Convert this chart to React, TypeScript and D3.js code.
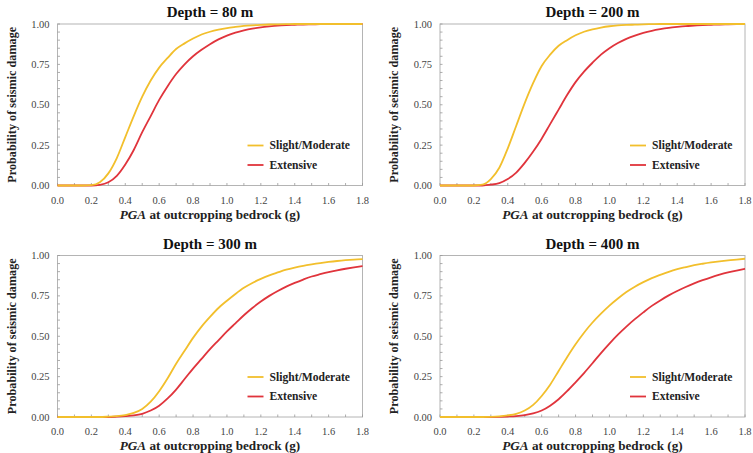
import React, { useEffect } from "react";
import * as d3 from "d3";

const pga = [0, 0.05, 0.1, 0.15, 0.2, 0.25, 0.3, 0.35, 0.4, 0.45, 0.5, 0.55, 0.6, 0.65, 0.7, 0.75, 0.8, 0.85, 0.9, 0.95, 1.0, 1.05, 1.1, 1.15, 1.2, 1.25, 1.3, 1.35, 1.4, 1.45, 1.5, 1.55, 1.6, 1.65, 1.7, 1.75, 1.8];

const slight80 = [0, 0, 0, 0, 0.002, 0.02, 0.075, 0.17, 0.3, 0.43, 0.55, 0.65, 0.73, 0.79, 0.845, 0.88, 0.91, 0.935, 0.952, 0.965, 0.975, 0.982, 0.988, 0.992, 0.995, 0.997, 0.998, 0.999, 1, 1, 1, 1, 1, 1, 1, 1, 1];
const extensive80 = [0, 0, 0, 0, 0, 0.004, 0.02, 0.06, 0.13, 0.22, 0.33, 0.43, 0.53, 0.615, 0.69, 0.75, 0.8, 0.84, 0.875, 0.905, 0.928, 0.946, 0.96, 0.971, 0.979, 0.985, 0.99, 0.993, 0.995, 0.997, 0.998, 0.999, 1, 1, 1, 1, 1];

const slight200 = [0, 0, 0, 0, 0, 0.005, 0.04, 0.11, 0.23, 0.37, 0.51, 0.635, 0.74, 0.81, 0.865, 0.9, 0.93, 0.952, 0.967, 0.978, 0.986, 0.991, 0.994, 0.996, 0.998, 0.999, 1, 1, 1, 1, 1, 1, 1, 1, 1, 1, 1];
const extensive200 = [0, 0, 0, 0, 0, 0, 0.005, 0.015, 0.04, 0.08, 0.14, 0.21, 0.29, 0.38, 0.47, 0.56, 0.64, 0.705, 0.76, 0.81, 0.85, 0.882, 0.908, 0.928, 0.945, 0.958, 0.968, 0.976, 0.982, 0.987, 0.99, 0.993, 0.995, 0.997, 0.998, 0.999, 1];

const slight300 = [0, 0, 0, 0, 0, 0, 0.002, 0.005, 0.012, 0.025, 0.05, 0.095, 0.16, 0.24, 0.33, 0.41, 0.49, 0.56, 0.62, 0.675, 0.72, 0.762, 0.8, 0.83, 0.855, 0.877, 0.895, 0.912, 0.925, 0.936, 0.945, 0.953, 0.96, 0.966, 0.971, 0.975, 0.978];
const extensive300 = [0, 0, 0, 0, 0, 0, 0, 0.002, 0.005, 0.01, 0.02, 0.04, 0.07, 0.115, 0.17, 0.235, 0.3, 0.36, 0.42, 0.475, 0.53, 0.58, 0.63, 0.675, 0.715, 0.75, 0.78, 0.807, 0.83, 0.851, 0.87, 0.884, 0.897, 0.908, 0.918, 0.927, 0.935];

const slight400 = [0, 0, 0, 0, 0, 0, 0.001, 0.004, 0.01, 0.02, 0.04, 0.075, 0.13, 0.2, 0.285, 0.37, 0.45, 0.522, 0.585, 0.64, 0.69, 0.734, 0.774, 0.807, 0.835, 0.86, 0.88, 0.899, 0.915, 0.928, 0.94, 0.949, 0.957, 0.964, 0.97, 0.975, 0.98];
const extensive400 = [0, 0, 0, 0, 0, 0, 0, 0.001, 0.003, 0.006, 0.012, 0.022, 0.04, 0.07, 0.11, 0.16, 0.215, 0.272, 0.333, 0.396, 0.455, 0.51, 0.56, 0.606, 0.648, 0.688, 0.722, 0.753, 0.78, 0.805, 0.827, 0.847, 0.865, 0.881, 0.895, 0.907, 0.918];

const depthTitles = ["Depth = 80 m", "Depth = 200 m", "Depth = 300 m", "Depth = 400 m"];
const seriesNames = ["Slight/Moderate", "Extensive"];
const xTickLabels = ["0.0", "0.2", "0.4", "0.6", "0.8", "1.0", "1.2", "1.4", "1.6", "1.8"];
const yTickLabels = ["0.00", "0.25", "0.50", "0.75", "1.00"];

const W = 753;
const H = 453;
const PW = 305;
const PH = 161.5;
const FONT = "'Liberation Serif', 'Times New Roman', serif";
const YELLOW = "#f2bf2c";
const RED = "#e0343c";

const panels = [
  { title: depthTitles[0], slight: slight80, extensive: extensive80, left: 57.5, top: 24 },
  { title: depthTitles[1], slight: slight200, extensive: extensive200, left: 440, top: 24 },
  { title: depthTitles[2], slight: slight300, extensive: extensive300, left: 57.5, top: 255.5 },
  { title: depthTitles[3], slight: slight400, extensive: extensive400, left: 440, top: 255.5 },
];

const x = d3.scaleLinear().domain([0, 1.8]).range([0, PW]);
const y = d3.scaleLinear().domain([0, 1]).range([PH, 0]);

const line = d3
  .line<number>()
  .x((_, i) => x(pga[i]))
  .y((d) => y(d))
  .curve(d3.curveMonotoneX);

const Panel = ({ p }) => {
  const minorY = d3.range(0, 1.0001, 0.05);
  const minorX = d3.range(0, 1.8001, 0.1);
  return (
    <g transform={`translate(${p.left},${p.top})`}>
      <text x={PW / 2} y={-7} textAnchor="middle" fontSize={15} fontWeight="bold" fill="#111">
        {p.title}
      </text>
      <rect x={0} y={0} width={PW} height={PH} fill="#fff" stroke="#b4b4b4" strokeWidth={1} />
      {/* inward ticks */}
      {minorY.map((v, i) => (
        <line key={"ty" + i} x1={0} x2={2.5} y1={y(v)} y2={y(v)} stroke="#999" strokeWidth={0.8} />
      ))}
      {minorX.map((v, i) => (
        <line key={"tx" + i} x1={x(v)} x2={x(v)} y1={PH} y2={PH - 2.5} stroke="#999" strokeWidth={0.8} />
      ))}
      {yTickLabels.map((t) => (
        <text key={t} x={-8} y={y(+t) + 3.5} textAnchor="end" fontSize={10.5} fill="#444">
          {t}
        </text>
      ))}
      {xTickLabels.map((t) => (
        <text key={t} x={x(+t)} y={PH + 18} textAnchor="middle" fontSize={10.5} fill="#444">
          {t}
        </text>
      ))}
      <text
        transform={`translate(-42,${PH / 2}) rotate(-90)`}
        textAnchor="middle"
        fontSize={12.2}
        fontWeight="bold"
        fill="#222"
      >
        Probability of seismic damage
      </text>
      <text x={PW / 2} y={PH + 33} textAnchor="middle" fontSize={13.2} fontWeight="bold" fill="#222">
        <tspan fontStyle="italic">PGA</tspan> at outcropping bedrock (g)
      </text>
      <path d={line(p.extensive) ?? ""} fill="none" stroke={RED} strokeWidth={1.8} />
      <path d={line(p.slight) ?? ""} fill="none" stroke={YELLOW} strokeWidth={1.8} />
      {/* legend */}
      {seriesNames.map((name, i) => (
        <g key={name} transform={`translate(${PW - 115},${PH - 40 + i * 19.5})`}>
          <line x1={0} x2={16} y1={0} y2={0} stroke={i === 0 ? YELLOW : RED} strokeWidth={1.8} />
          <text x={22} y={3.8} fontSize={11.6} fontWeight="bold" fill="#222">
            {name}
          </text>
        </g>
      ))}
    </g>
  );
};

const App = () => {
  useEffect(() => {
    document.body.style.margin = "0";
  }, []);
  return (
    <svg width={W} height={H} style={{ display: "block", fontFamily: FONT, background: "#fff" }}>
      {panels.map((p) => (
        <Panel key={p.title} p={p} />
      ))}
    </svg>
  );
};

export default App;
